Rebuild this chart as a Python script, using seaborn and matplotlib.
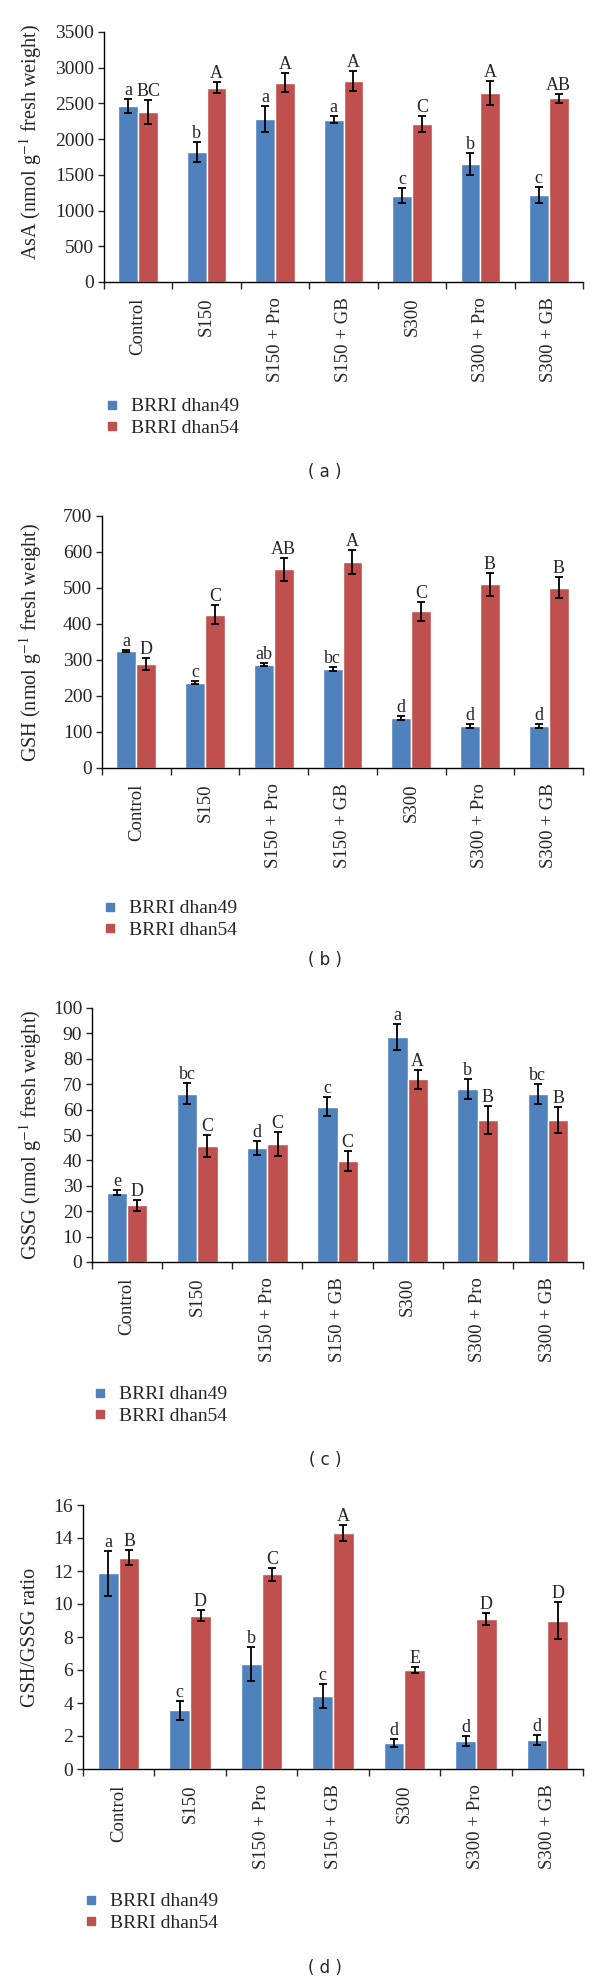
import numpy as np
import pandas as pd
import seaborn as sns
import matplotlib.pyplot as plt
from matplotlib.lines import Line2D

# DATA
treatments = ['Control', 'S150', 'S150 + Pro', 'S150 + GB', 'S300', 'S300 + Pro', 'S300 + GB']
cultivars = ['BRRI dhan49', 'BRRI dhan54']

asa_49 = [2460, 1820, 2280, 2270, 1210, 1650, 1220]
asa_54 = [2380, 2720, 2790, 2810, 2210, 2650, 2570]
asa_err_49 = [100, 140, 180, 50, 110, 150, 110]
asa_err_54 = [170, 75, 135, 140, 110, 170, 60]
asa_let_49 = ['a', 'b', 'a', 'a', 'c', 'b', 'c']
asa_let_54 = ['BC', 'A', 'A', 'A', 'C', 'A', 'AB']

gsh_49 = [325, 237, 287, 275, 138, 117, 116]
gsh_54 = [288, 426, 552, 572, 435, 510, 501]
gsh_err_49 = [3, 5, 4, 5, 6, 5, 5]
gsh_err_54 = [17, 26, 32, 33, 27, 31, 30]
gsh_let_49 = ['a', 'c', 'ab', 'bc', 'd', 'd', 'd']
gsh_let_54 = ['D', 'C', 'AB', 'A', 'C', 'B', 'B']

gssg_49 = [27.2, 66.3, 44.9, 61.1, 88.6, 68.2, 66.1]
gssg_54 = [22.3, 45.7, 46.5, 39.9, 71.9, 55.9, 55.9]
gssg_err_49 = [1.0, 4.0, 2.7, 3.8, 5.1, 4.0, 4.0]
gssg_err_54 = [2.3, 4.4, 4.7, 3.9, 3.8, 5.5, 5.2]
gssg_let_49 = ['e', 'bc', 'd', 'c', 'a', 'b', 'bc']
gssg_let_54 = ['D', 'C', 'C', 'C', 'A', 'B', 'B']

ratio_49 = [11.86, 3.55, 6.35, 4.45, 1.56, 1.72, 1.76]
ratio_54 = [12.8, 9.3, 11.8, 14.3, 6.0, 9.1, 9.0]
ratio_err_49 = [1.37, 0.57, 1.04, 0.73, 0.25, 0.3, 0.3]
ratio_err_54 = [0.45, 0.35, 0.4, 0.5, 0.2, 0.35, 1.1]
ratio_let_49 = ['a', 'c', 'b', 'c', 'd', 'd', 'd']
ratio_let_54 = ['B', 'D', 'C', 'A', 'E', 'D', 'D']

BLUE = '#4F81BD'
RED = '#C0504D'

sns.set_style('ticks')
plt.rcParams['font.family'] = ['Liberation Serif', 'DejaVu Serif']
plt.rcParams['mathtext.fontset'] = 'stix'

W, H = 600, 1984
fig = plt.figure(figsize=(W / 100, H / 100), dpi=100)


def rect(left, right, top, bottom):
    return [left / W, 1 - bottom / H, (right - left) / W, (bottom - top) / H]


panels = [
    dict(v=(asa_49, asa_54), e=(asa_err_49, asa_err_54), l=(asa_let_49, asa_let_54),
         ylab=r'AsA (nmol g$^{-1}$ fresh weight)', yt=np.arange(0, 3501, 500),
         box=(104, 583, 32, 282), lab=(44, 0.56), leg=390, cap=472, tag='( a )'),
    dict(v=(gsh_49, gsh_54), e=(gsh_err_49, gsh_err_54), l=(gsh_let_49, gsh_let_54),
         ylab=r'GSH (nmol g$^{-1}$ fresh weight)', yt=np.arange(0, 701, 100),
         box=(102, 583, 516, 768), lab=(44, 0.5), leg=892, cap=960, tag='( b )'),
    dict(v=(gssg_49, gssg_54), e=(gssg_err_49, gssg_err_54), l=(gssg_let_49, gssg_let_54),
         ylab=r'GSSG (nmol g$^{-1}$ fresh weight)', yt=np.arange(0, 101, 10),
         box=(92, 583, 1008, 1262), lab=(44, 0.5), leg=1378, cap=1460, tag='( c )'),
    dict(v=(ratio_49, ratio_54), e=(ratio_err_49, ratio_err_54), l=(ratio_let_49, ratio_let_54),
         ylab='GSH/GSSG ratio', yt=np.arange(0, 17, 2),
         box=(83, 583, 1505, 1769), lab=(40, 0.5), leg=1885, cap=1968, tag='( d )'),
]

for p in panels:
    left, right, top, bottom = p['box']
    ax = fig.add_axes(rect(left, right, top, bottom))
    df = pd.DataFrame({
        'treatment': treatments * 2,
        'cultivar': [cultivars[0]] * 7 + [cultivars[1]] * 7,
        'value': list(p['v'][0]) + list(p['v'][1]),
    })
    sns.barplot(data=df, x='treatment', y='value', hue='cultivar', order=treatments,
                palette=[BLUE, RED], width=0.58, errorbar=None, saturation=1,
                legend=False, ax=ax)

    # error bars + letters
    bar_groups = list(ax.containers)
    for k, cont in enumerate(bar_groups):
        for bar, err, let in zip(cont, p['e'][k], p['l'][k]):
            x = bar.get_x() + bar.get_width() / 2
            h = bar.get_height()
            ax.errorbar(x, h, yerr=err, fmt='none', ecolor='black',
                        elinewidth=1.3, capsize=3, capthick=1.3)
            ax.annotate(let, (x, h + err), xytext=(0, 0), textcoords='offset points',
                        ha='center', va='bottom', fontsize=13)

    ax.set_xlim(-0.5, 6.5)
    ax.set_ylim(p['yt'][0], p['yt'][-1])
    ax.set_yticks(p['yt'])
    ax.set_xticks(range(7))
    ax.set_xticklabels(treatments, rotation=90, fontsize=13.5)
    ax.set_xticks(np.arange(-0.5, 7, 1), minor=True)
    ax.tick_params(axis='x', which='major', length=0, pad=11)
    ax.tick_params(axis='x', which='minor', length=5, width=1, direction='out')
    ax.tick_params(axis='y', labelsize=14, length=4, width=1, pad=3)
    ax.set_xlabel('')
    ax.set_ylabel(p['ylab'], fontsize=14.5)
    ax.yaxis.set_label_coords(-(left - p['lab'][0]) / (right - left), p['lab'][1])
    sns.despine(ax=ax)
    for s in ['left', 'bottom']:
        ax.spines[s].set_linewidth(1.0)
        ax.spines[s].set_color('black')

    handles = [Line2D([], [], marker='s', linestyle='none', markersize=6,
                      markerfacecolor=c, markeredgecolor=c) for c in (BLUE, RED)]
    fig.legend(handles, cultivars, loc='upper left',
               bbox_to_anchor=((left - 8) / W, 1 - p['leg'] / H),
               frameon=False, fontsize=14, handlelength=0.8, handletextpad=0.6,
               labelspacing=0.2, borderaxespad=0)

    fig.text(325 / W, 1 - p['cap'] / H, p['tag'], ha='center', va='center',
             family='DejaVu Sans', fontsize=12)

fig.savefig('out.png', dpi=100)
